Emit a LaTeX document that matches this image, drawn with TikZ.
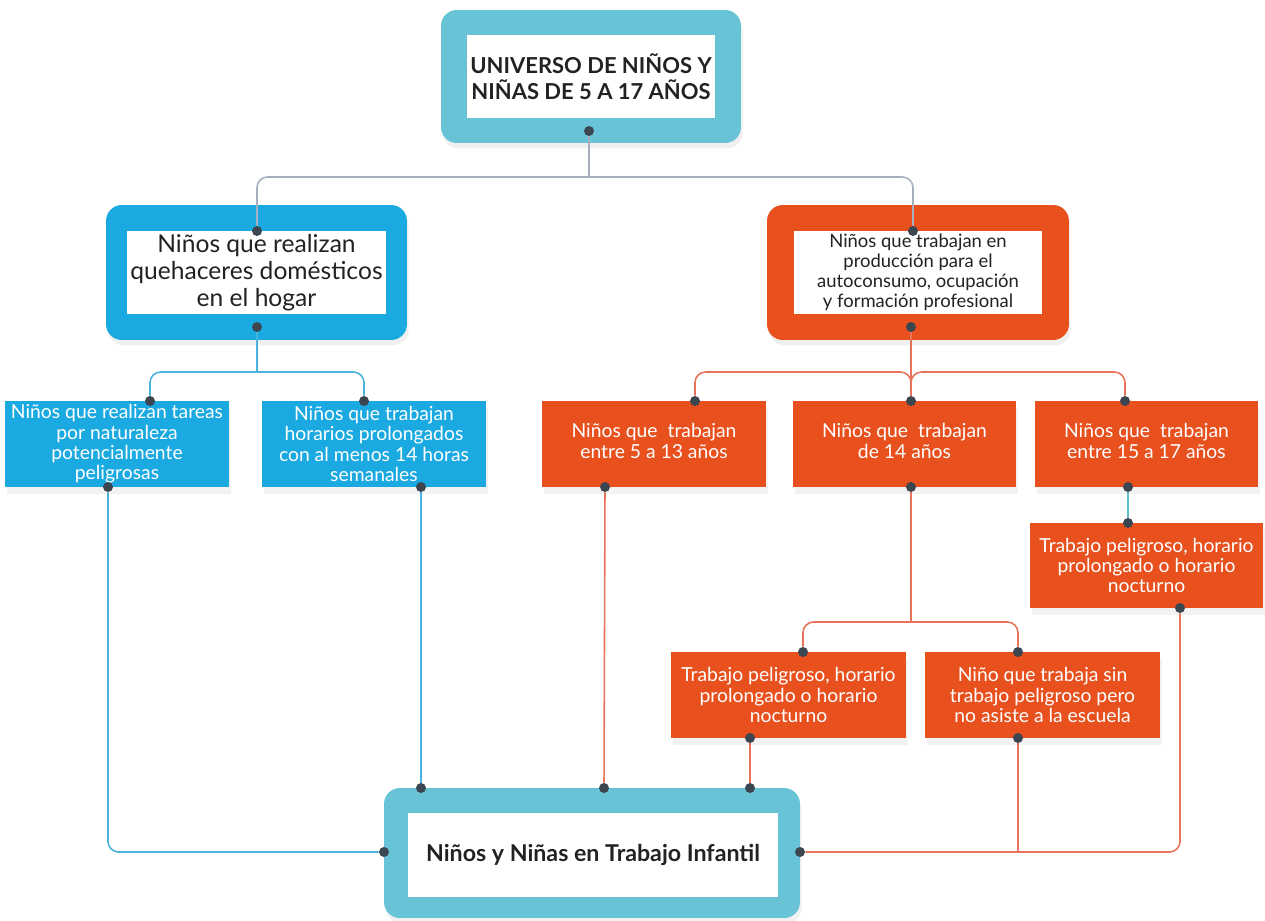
\documentclass[tikz,border=0pt]{standalone}
\usepackage{fontspec}
\setmainfont{Lato}
\usetikzlibrary{shadows,positioning}

\definecolor{tealc}{HTML}{67C3D5}
\definecolor{bluec}{HTML}{1BA9E1}
\definecolor{orangec}{HTML}{E8501E}
\definecolor{dotc}{HTML}{3C4650}
\definecolor{grayline}{HTML}{A7AEC0}
\definecolor{orangeline}{HTML}{E8735A}
\definecolor{blueline}{HTML}{4AB2DE}
\definecolor{tealline}{HTML}{5BBFCC}
\definecolor{textc}{HTML}{222222}

\begin{document}
\begin{tikzpicture}[x=0.02cm,y=-0.02cm,
    frame box/.style={rounded corners=9pt,inner sep=0pt,drop shadow={opacity=0.12,shadow xshift=1pt,shadow yshift=-3pt}},
    white box/.style={fill=white,inner sep=2pt,align=center,text=textc},
    leaf/.style={fill=#1,text=white,align=center,inner sep=2pt,minimum height=1.72cm,font=\fontsize{11}{11.6}\selectfont,drop shadow={opacity=0.1,shadow xshift=1pt,shadow yshift=-4pt}},
    dot/.style={circle,fill=dotc,inner sep=0pt,minimum size=0.2cm},
    link/.style={line width=0.9pt,rounded corners=6pt}]
  \useasboundingbox (0,0) rectangle (1265,920);

  % main boxes
  \node[frame box,fill=tealc,minimum width=6cm,minimum height=2.66cm] (univ) at (591,76.5) {};
  \node[white box,minimum width=4.96cm,minimum height=1.66cm,font=\bfseries\fontsize{12.5}{14.8}\selectfont] (univ_t) at (univ) {UNIVERSO DE NIÑOS Y\\NIÑAS DE 5 A 17 AÑOS};

  \node[frame box,fill=bluec,minimum width=6.02cm,minimum height=2.7cm] (hogar) at (256.5,272.5) {};
  \node[white box,minimum width=4.98cm,minimum height=1.68cm,font=\fontsize{14}{15.4}\selectfont] (hogar_t) at (hogar) {Niños que realizan\\quehaceres domésticos\\en el hogar};

  \node[frame box,fill=orangec,minimum width=6.04cm,minimum height=2.7cm] (prod) at (918,272.5) {};
  \node[white box,minimum width=4.98cm,minimum height=1.68cm,font=\fontsize{10.5}{11.4}\selectfont] (prod_t) at (prod) {Niños que trabajan en\\producción para el\\autoconsumo, ocupación\\y formación profesional};

  \node[frame box,fill=tealc,minimum width=8.32cm,minimum height=2.6cm] (trab) at (592,853) {};
  \node[white box,minimum width=7.4cm,minimum height=1.68cm,font=\bfseries\fontsize{13.2}{15}\selectfont] (trab_t) at (593,855) {Niños y Niñas en Trabajo Infantil};

  % leaves
  \node[leaf=bluec,minimum width=4.48cm] (A) at (117,444) {Niños que realizan tareas\\por naturaleza\\potencialmente\\peligrosas};
  \node[leaf=bluec,minimum width=4.48cm] (B) at (374,444) {Niños que trabajan\\horarios prolongados\\con al menos 14 horas\\semanales};
  \node[leaf=orangec,minimum width=4.48cm,text depth=0.12cm] (C) at (654,444) {Niños que~ trabajan\\entre 5 a 13 años};
  \node[leaf=orangec,minimum width=4.46cm,text depth=0.12cm] (D) at (904.5,444) {Niños que~ trabajan\\de 14 años};
  \node[leaf=orangec,minimum width=4.46cm,text depth=0.12cm] (E) at (1146.5,444) {Niños que~ trabajan\\entre 15 a 17 años};
  \node[leaf=orangec,minimum width=4.66cm,minimum height=1.7cm] (F) at (1146.5,565.5) {Trabajo peligroso, horario\\prolongado o horario\\nocturno};
  \node[leaf=orangec,minimum width=4.7cm] (G) at (788.5,695) {Trabajo peligroso, horario\\prolongado o horario\\nocturno};
  \node[leaf=orangec,minimum width=4.7cm] (H) at (1042.5,695) {Niño que trabaja sin\\trabajo peligroso pero\\no asiste a la escuela};

  % dots
  \node[dot] (univ_s) at (589,131) {};
  \node[dot] (hogar_n) at (257,231) {};
  \node[dot] (hogar_s) at (257,327) {};
  \node[dot] (prod_n) at (913,231) {};
  \node[dot] (prod_s) at (911,327) {};
  \node[dot] (A_n) at (150,401) {};
  \node[dot] (A_s) at (108,487) {};
  \node[dot] (B_n) at (364,401) {};
  \node[dot] (B_s) at (421,487) {};
  \node[dot] (C_n) at (695,401) {};
  \node[dot] (C_s) at (605,487) {};
  \node[dot] (D_n) at (911,401) {};
  \node[dot] (D_s) at (911,487) {};
  \node[dot] (E_n) at (1125,401) {};
  \node[dot] (E_s) at (1128,487) {};
  \node[dot] (F_n) at (1128,523) {};
  \node[dot] (F_s) at (1180,608) {};
  \node[dot] (G_n) at (803,652) {};
  \node[dot] (G_s) at (750,738) {};
  \node[dot] (H_n) at (1018,652) {};
  \node[dot] (H_s) at (1018,738) {};
  \node[dot] (trab_n1) at (421,788) {};
  \node[dot] (trab_n2) at (604,788) {};
  \node[dot] (trab_n3) at (750,788) {};
  \node[dot] (trab_w) at (384,852) {};
  \node[dot] (trab_e) at (800,852) {};

  \coordinate (j_univ) at (589,177);
  \coordinate (j_hogar) at (257,372);
  \coordinate (j_prod) at (911,372);
  \coordinate (j_d) at (911,622);
  \coordinate (j_h) at (1018,852);

  % connectors
  \draw[link,grayline] (univ_s) -- (j_univ);
  \draw[link,grayline] (hogar_n) |- (j_univ) -| (prod_n);

  \draw[link,blueline] (hogar_s) -- (j_hogar);
  \draw[link,blueline] (A_n) |- (j_hogar) -| (B_n);
  \draw[link,blueline] (A_s) |- (trab_w);
  \draw[link,blueline] (B_s) -- (trab_n1);

  \draw[link,orangeline] (prod_s) -- (D_n);
  \draw[link,orangeline] (C_n) |- (j_prod) -- (D_n);
  \draw[link,orangeline] (E_n) |- (j_prod) -- (D_n);
  \draw[link,tealline] (E_s) -- (F_n);
  \draw[link,orangeline] (D_s) -- (j_d);
  \draw[link,orangeline] (G_n) |- (j_d) -| (H_n);
  \draw[link,orangeline] (C_s) -- (trab_n2);
  \draw[link,orangeline] (G_s) -- (trab_n3);
  \draw[link,orangeline] (H_s) -- (j_h);
  \draw[link,orangeline] (F_s) |- (trab_e);
\end{tikzpicture}
\end{document}
